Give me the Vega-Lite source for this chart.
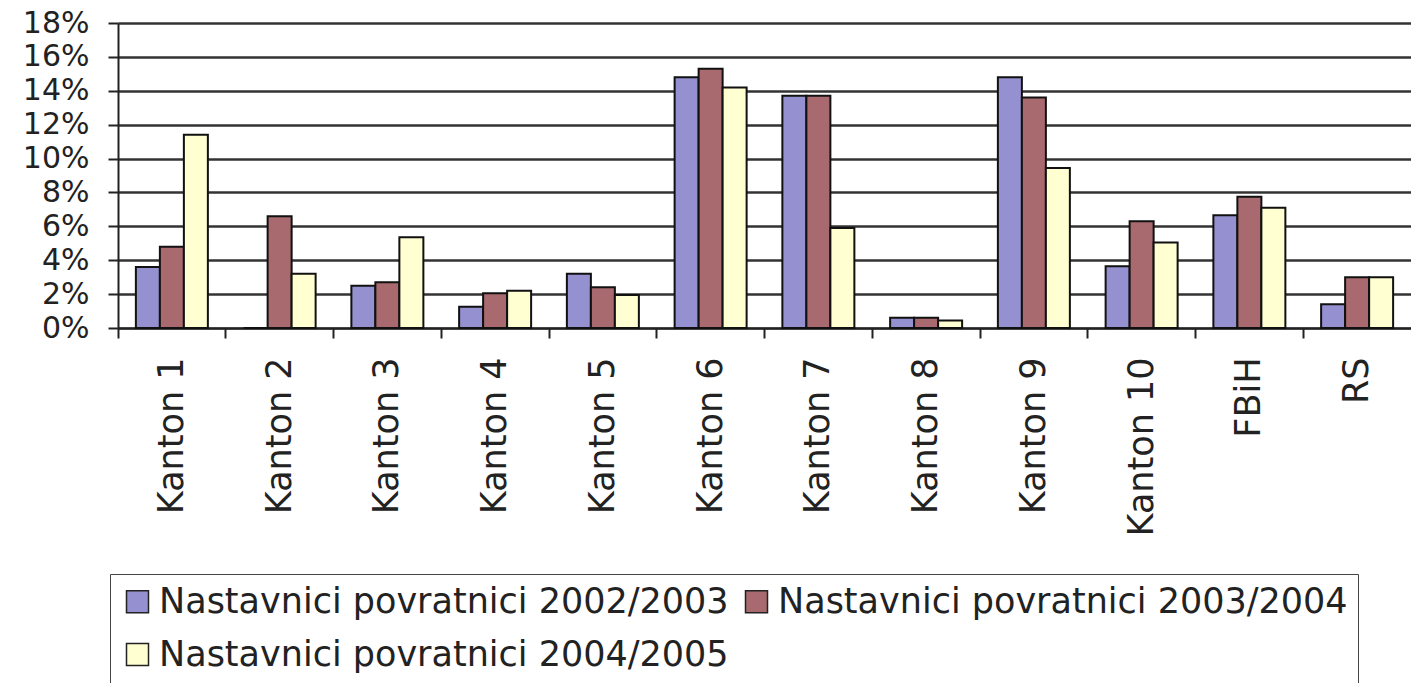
{
  "$schema": "https://vega.github.io/schema/vega-lite/v6.json",
  "autosize": "none",
  "width": 1293,
  "height": 305,
  "padding": {"left": 118, "top": 23, "right": 0, "bottom": 355},
  "background": "white",
  "config": {
    "view": {"stroke": null},
    "font": "DejaVu Sans"
  },
  "data": {
    "values": [
      {"region": "Kanton 1", "series": "Nastavnici povratnici 2002/2003", "value": 0.036},
      {"region": "Kanton 1", "series": "Nastavnici povratnici 2003/2004", "value": 0.048},
      {"region": "Kanton 1", "series": "Nastavnici povratnici 2004/2005", "value": 0.114},
      {"region": "Kanton 2", "series": "Nastavnici povratnici 2002/2003", "value": 0},
      {"region": "Kanton 2", "series": "Nastavnici povratnici 2003/2004", "value": 0.066},
      {"region": "Kanton 2", "series": "Nastavnici povratnici 2004/2005", "value": 0.032},
      {"region": "Kanton 3", "series": "Nastavnici povratnici 2002/2003", "value": 0.025},
      {"region": "Kanton 3", "series": "Nastavnici povratnici 2003/2004", "value": 0.027},
      {"region": "Kanton 3", "series": "Nastavnici povratnici 2004/2005", "value": 0.0535},
      {"region": "Kanton 4", "series": "Nastavnici povratnici 2002/2003", "value": 0.0125},
      {"region": "Kanton 4", "series": "Nastavnici povratnici 2003/2004", "value": 0.0205},
      {"region": "Kanton 4", "series": "Nastavnici povratnici 2004/2005", "value": 0.022},
      {"region": "Kanton 5", "series": "Nastavnici povratnici 2002/2003", "value": 0.032},
      {"region": "Kanton 5", "series": "Nastavnici povratnici 2003/2004", "value": 0.024},
      {"region": "Kanton 5", "series": "Nastavnici povratnici 2004/2005", "value": 0.0195},
      {"region": "Kanton 6", "series": "Nastavnici povratnici 2002/2003", "value": 0.148},
      {"region": "Kanton 6", "series": "Nastavnici povratnici 2003/2004", "value": 0.153},
      {"region": "Kanton 6", "series": "Nastavnici povratnici 2004/2005", "value": 0.142},
      {"region": "Kanton 7", "series": "Nastavnici povratnici 2002/2003", "value": 0.137},
      {"region": "Kanton 7", "series": "Nastavnici povratnici 2003/2004", "value": 0.137},
      {"region": "Kanton 7", "series": "Nastavnici povratnici 2004/2005", "value": 0.059},
      {"region": "Kanton 8", "series": "Nastavnici povratnici 2002/2003", "value": 0.006},
      {"region": "Kanton 8", "series": "Nastavnici povratnici 2003/2004", "value": 0.006},
      {"region": "Kanton 8", "series": "Nastavnici povratnici 2004/2005", "value": 0.0045},
      {"region": "Kanton 9", "series": "Nastavnici povratnici 2002/2003", "value": 0.148},
      {"region": "Kanton 9", "series": "Nastavnici povratnici 2003/2004", "value": 0.136},
      {"region": "Kanton 9", "series": "Nastavnici povratnici 2004/2005", "value": 0.0945},
      {"region": "Kanton 10", "series": "Nastavnici povratnici 2002/2003", "value": 0.0365},
      {"region": "Kanton 10", "series": "Nastavnici povratnici 2003/2004", "value": 0.063},
      {"region": "Kanton 10", "series": "Nastavnici povratnici 2004/2005", "value": 0.0505},
      {"region": "FBiH", "series": "Nastavnici povratnici 2002/2003", "value": 0.0665},
      {"region": "FBiH", "series": "Nastavnici povratnici 2003/2004", "value": 0.0775},
      {"region": "FBiH", "series": "Nastavnici povratnici 2004/2005", "value": 0.071},
      {"region": "RS", "series": "Nastavnici povratnici 2002/2003", "value": 0.014},
      {"region": "RS", "series": "Nastavnici povratnici 2003/2004", "value": 0.03},
      {"region": "RS", "series": "Nastavnici povratnici 2004/2005", "value": 0.03}
    ]
  },
  "mark": {"type": "bar", "stroke": "#111111", "strokeWidth": 2},
  "encoding": {
    "x": {
      "field": "region",
      "type": "nominal",
      "sort": null,
      "scale": {"paddingInner": 0, "paddingOuter": 0},
      "axis": {
        "title": null,
        "bandPosition": 0,
        "labelAngle": -90,
        "labelFont": "DejaVu Sans",
        "labelFontSize": 35,
        "labelColor": "#222222",
        "labelPadding": 19,
        "tickSize": 10,
        "tickColor": "#222222",
        "tickWidth": 2,
        "domainColor": "#222222",
        "domainWidth": 2,
        "grid": false
      }
    },
    "xOffset": {
      "field": "series",
      "type": "nominal",
      "scale": {"paddingInner": 0, "paddingOuter": 0.745}
    },
    "y": {
      "field": "value",
      "type": "quantitative",
      "scale": {"domain": [0, 0.18], "nice": false},
      "axis": {
        "title": null,
        "values": [0, 0.02, 0.04, 0.06, 0.08, 0.1, 0.12, 0.14, 0.16, 0.18],
        "format": ".0%",
        "labelFont": "DejaVu Sans",
        "labelFontSize": 30,
        "labelColor": "#222222",
        "labelPadding": 19,
        "tickSize": 10,
        "tickColor": "#222222",
        "tickWidth": 2,
        "domainColor": "#222222",
        "domainWidth": 2,
        "grid": true,
        "gridColor": "#333333",
        "gridWidth": 2.5
      }
    },
    "color": {
      "field": "series",
      "type": "nominal",
      "scale": {
        "domain": ["Nastavnici povratnici 2002/2003", "Nastavnici povratnici 2003/2004", "Nastavnici povratnici 2004/2005"],
        "range": ["#9590cf", "#a86a6e", "#ffffd2"]
      },
      "legend": {
        "title": null,
        "orient": "none",
        "legendX": -8,
        "legendY": 551,
        "direction": "horizontal",
        "columns": 2,
        "columnPadding": 10,
        "rowPadding": 17,
        "padding": 10,
        "strokeColor": "#444444",
        "symbolType": "square",
        "symbolSize": 484,
        "symbolStrokeColor": "#222222",
        "symbolStrokeWidth": 1.5,
        "symbolOpacity": 1,
        "labelFont": "DejaVu Sans",
        "labelFontSize": 35,
        "labelColor": "#222222",
        "labelOffset": 4,
        "labelLimit": 800
      }
    }
  }
}
